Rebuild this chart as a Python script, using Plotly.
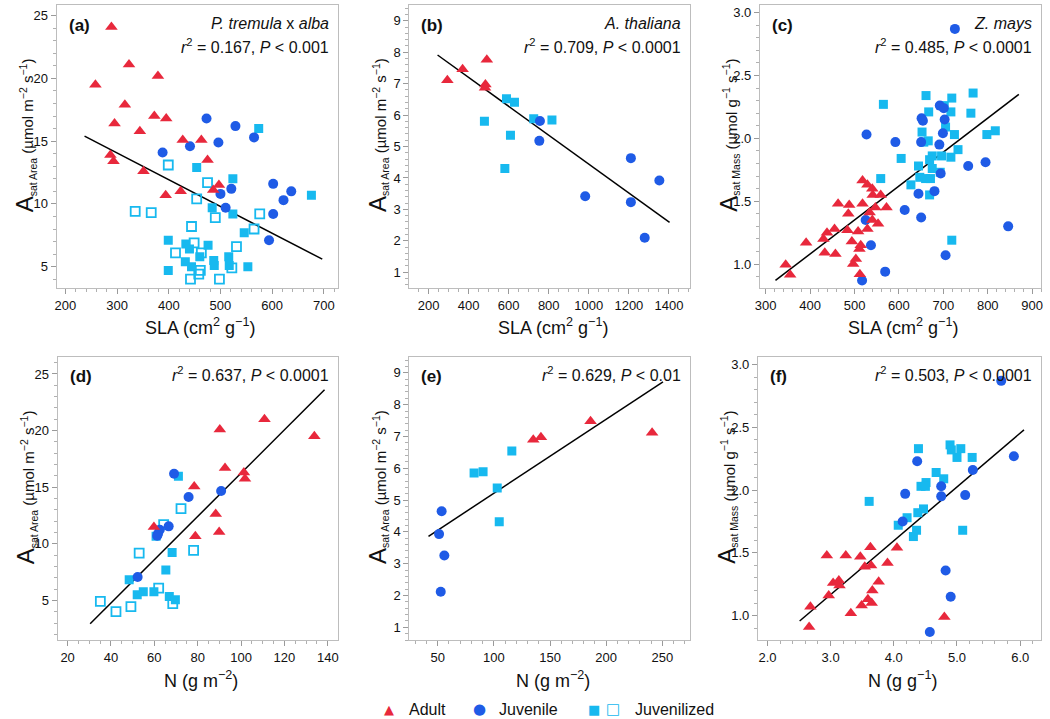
import plotly.graph_objects as go

# ---------------- data ----------------
# (a) P. tremula x alba : SLA vs Asat area
a_adult_x = [289, 323, 258, 379, 315, 372, 395, 295, 344, 427, 463, 287, 293, 351, 475, 497, 486, 423, 394]
a_adult_y = [24.1, 21.1, 19.5, 20.2, 17.9, 17.0, 16.8, 16.4, 15.8, 15.1, 15.1, 13.9, 13.4, 12.6, 13.5, 11.5, 11.1, 11.0, 10.7]
a_juv_x = [473, 529, 565, 496, 441, 388, 602, 637, 521, 500, 622, 510, 602, 594]
a_juv_y = [16.8, 16.2, 15.3, 14.9, 14.6, 14.1, 11.6, 11.0, 11.2, 10.8, 10.3, 9.7, 9.2, 7.1]
a_jzf_x = [574, 454, 524, 676, 484, 524, 546, 399, 476, 433, 440, 460, 516, 432, 487, 488, 444, 517, 553, 399]
a_jzf_y = [16.0, 12.9, 12.0, 10.7, 9.7, 9.2, 7.7, 7.1, 6.7, 6.8, 6.4, 5.8, 5.8, 5.4, 5.5, 5.1, 5.0, 5.1, 5.0, 4.7]
a_jzo_x = [399, 475, 335, 366, 454, 576, 490, 444, 565, 449, 531, 413, 463, 461, 458, 522, 442, 498]
a_jzo_y = [13.1, 11.7, 9.4, 9.3, 10.4, 9.2, 8.9, 8.2, 8.0, 6.9, 6.6, 6.1, 6.1, 4.7, 4.4, 4.9, 4.0, 4.0]
a_fit_x = [237, 697]
a_fit_y = [15.4, 5.6]

# (b) A. thaliana
b_adult_x = [294, 370, 491, 484, 482]
b_adult_y = [7.11, 7.46, 7.76, 6.97, 6.87]
b_juv_x = [756, 753, 982, 1210, 1210, 1279, 1352]
b_juv_y = [5.81, 5.18, 3.42, 4.63, 3.23, 2.10, 3.92]
b_jzf_x = [589, 629, 725, 816, 479, 609, 581]
b_jzf_y = [6.52, 6.41, 5.88, 5.84, 5.80, 5.36, 4.30]
b_fit_x = [245, 1403]
b_fit_y = [7.91, 2.59]

# (c) Z. mays : SLA vs Asat mass
c_adult_x = [345, 355, 391, 433, 438, 430, 457, 455, 463, 488, 486, 484, 494, 497, 503, 508, 511, 514, 512,
             518, 518, 529, 529, 534, 540, 541, 540, 547, 553, 559, 572]
c_adult_y = [0.995, 0.915, 1.17, 1.09, 1.25, 1.20, 1.08, 1.28, 1.48, 1.47, 1.40, 1.27, 1.18, 1.00, 1.04, 1.26, 1.12, 1.15, 0.92,
             1.665, 1.48, 1.63, 1.28, 1.41, 1.60, 1.55, 1.35, 1.45, 1.32, 1.55, 1.45]
c_juv_x = [726, 527, 592, 650, 651, 654, 692, 701, 703, 699, 691, 694, 680, 644, 613, 650, 525, 537, 569, 517, 705, 756, 795, 846]
c_juv_y = [2.87, 2.03, 1.97, 1.97, 2.16, 2.14, 2.26, 2.24, 2.15, 2.04, 1.95, 1.72, 1.58, 1.56, 1.43, 1.37, 1.35, 1.15, 0.94, 0.87, 1.07, 1.78, 1.81, 1.30]
c_jzf_x = [565, 661, 667, 702, 719, 767, 762, 717, 705, 725, 798, 817, 733, 666, 656, 652, 605, 644, 675, 696,
           717, 675, 669, 693, 647, 660, 671, 559, 627, 669, 719]
c_jzf_y = [2.27, 2.34, 2.21, 2.26, 2.32, 2.36, 2.20, 2.21, 2.09, 2.03, 2.03, 2.06, 1.91, 1.98, 1.97, 2.05, 1.84, 1.78, 1.86, 1.86,
           1.85, 1.76, 1.83, 1.73, 1.69, 1.68, 1.68, 1.68, 1.63, 1.55, 1.19]
c_fit_x = [322, 870]
c_fit_y = [0.87, 2.35]

# (d) P. tremula x alba : N area vs Asat area
d_adult_x = [110.8, 90.2, 133.8, 92.6, 101.3, 101.8, 78.4, 88.3, 89.9, 59.8, 78.9]
d_adult_y = [21.0, 20.1, 19.5, 16.7, 16.3, 15.75, 15.07, 12.63, 11.04, 11.48, 10.66]
d_juv_x = [69.1, 75.8, 90.8, 66.6, 62.5, 61.7, 61.3, 52.3]
d_juv_y = [16.19, 14.13, 14.66, 11.54, 11.24, 10.89, 10.71, 7.06]
d_jzf_x = [71.1, 60.8, 68.2, 65.3, 48.4, 54.9, 59.8, 52.1, 66.9, 69.7]
d_jzf_y = [15.96, 10.66, 9.24, 7.68, 6.83, 5.77, 5.77, 5.50, 5.35, 5.06]
d_jzo_x = [72.3, 64.3, 53.0, 78.1, 62.0, 35.1, 49.2, 42.3, 68.5]
d_jzo_y = [13.1, 11.69, 9.18, 9.42, 6.09, 4.91, 4.44, 4.00, 4.71]
d_fit_x = [30.4, 138.5]
d_fit_y = [2.94, 23.6]

# (e) A. thaliana : N area vs Asat area
e_adult_x = [186.1, 240.9, 141.9, 135.1]
e_adult_y = [7.48, 7.12, 6.98, 6.90]
e_juv_x = [53.5, 51.2, 55.9, 52.7]
e_juv_y = [4.65, 3.93, 3.26, 2.12]
e_jzf_x = [116.0, 90.4, 82.4, 103.0, 104.8]
e_jzf_y = [6.54, 5.89, 5.85, 5.38, 4.32]
e_fit_x = [41.8, 250.6]
e_fit_y = [3.86, 8.72]

# (f) Z. mays : N mass vs Asat mass
f_adult_x = [2.94, 3.24, 3.47, 3.63, 4.05, 3.90, 3.54, 3.64, 3.04, 3.13, 3.14, 2.97, 3.76, 3.66, 3.59, 3.65, 3.49, 3.32, 2.68, 2.66, 4.80]
f_adult_y = [1.48, 1.48, 1.47, 1.545, 1.54, 1.42, 1.39, 1.40, 1.26, 1.28, 1.24, 1.16, 1.27, 1.20, 1.13, 1.10, 1.08, 1.02, 1.07, 0.91, 0.99]
f_juv_x = [5.70, 5.90, 5.25, 4.37, 4.18, 5.13, 4.75, 4.75, 4.14, 4.82, 4.90, 4.57]
f_juv_y = [2.87, 2.27, 2.16, 2.23, 1.97, 1.96, 2.03, 1.95, 1.75, 1.36, 1.15, 0.87]
f_jzf_x = [4.39, 4.89, 4.91, 5.06, 5.00, 5.24, 4.67, 4.79, 4.51, 4.43, 4.50, 4.47, 4.38, 4.21, 4.07, 4.36, 4.31, 5.09, 3.61]
f_jzf_y = [2.33, 2.36, 2.32, 2.33, 2.26, 2.26, 2.14, 2.09, 2.06, 2.03, 2.03, 1.85, 1.82, 1.78, 1.72, 1.68, 1.63, 1.68, 1.91]
f_fit_x = [2.51, 6.06]
f_fit_y = [0.957, 2.48]

panel_labels = ["(a)", "(b)", "(c)", "(d)", "(e)", "(f)"]
species = ["<i>P. tremula</i> x <i>alba</i>", "<i>A. thaliana</i>", "<i>Z. mays</i>"]
stats = ["<i>r</i><sup>2</sup> = 0.167, <i>P</i> < 0.001",
         "<i>r</i><sup>2</sup> = 0.709, <i>P</i> < 0.0001",
         "<i>r</i><sup>2</sup> = 0.485, <i>P</i> < 0.0001",
         "<i>r</i><sup>2</sup> = 0.637, <i>P</i> < 0.0001",
         "<i>r</i><sup>2</sup> = 0.629, <i>P</i> < 0.01",
         "<i>r</i><sup>2</sup> = 0.503, <i>P</i> < 0.0001"]
legend_names = ["Adult", "Juvenile", "Juvenilized"]

# ---------------- style ----------------
W, H = 1050, 719
RED = "#E8283C"
BLUE = "#1F5BE6"
CYAN = "#17B9EF"
FONT = "Liberation Sans, Arial, Helvetica, sans-serif"

# pixel frames: left, right, top, bottom
frames = [(52, 335, 5, 288), (407, 690, 5, 288), (760, 1043, 5, 288),
          (53, 335, 357, 640), (407, 690, 357, 640), (758, 1043, 357, 640)]
xranges = [[183, 727], [104, 1507], [287, 920], [15.4, 144.6], [24.7, 275], [1.85, 6.33]]
yranges = [[3.3, 25.85], [0.5, 9.5], [0.81, 3.06], [1.5, 26.5], [0.6, 9.5], [0.806, 3.06]]
xdt = [100, 200, 100, 20, 50, 1]
ydt = [5, 1, 0.5, 5, 1, 0.5]
xfmt = ["", "", "", "", "", ".1f"]
yfmt = ["", "", ".1f", "", "", ".1f"]

fig = go.Figure()

panels = [
    (a_adult_x, a_adult_y, a_juv_x, a_juv_y, a_jzf_x, a_jzf_y, a_jzo_x, a_jzo_y, a_fit_x, a_fit_y),
    (b_adult_x, b_adult_y, b_juv_x, b_juv_y, b_jzf_x, b_jzf_y, [], [], b_fit_x, b_fit_y),
    (c_adult_x, c_adult_y, c_juv_x, c_juv_y, c_jzf_x, c_jzf_y, [], [], c_fit_x, c_fit_y),
    (d_adult_x, d_adult_y, d_juv_x, d_juv_y, d_jzf_x, d_jzf_y, d_jzo_x, d_jzo_y, d_fit_x, d_fit_y),
    (e_adult_x, e_adult_y, e_juv_x, e_juv_y, e_jzf_x, e_jzf_y, [], [], e_fit_x, e_fit_y),
    (f_adult_x, f_adult_y, f_juv_x, f_juv_y, f_jzf_x, f_jzf_y, [], [], f_fit_x, f_fit_y),
]

annotations = []
for i, (ax_, ay_, jx, jy, fx, fy, ox, oy, lx, ly) in enumerate(panels):
    n = "" if i == 0 else str(i + 1)
    xa, ya = "x" + n, "y" + n
    fig.add_trace(go.Scatter(x=lx, y=ly, mode="lines", line=dict(color="black", width=1.5),
                             xaxis=xa, yaxis=ya, showlegend=False, hoverinfo="skip"))
    if ox:
        fig.add_trace(go.Scatter(x=ox, y=oy, mode="markers", xaxis=xa, yaxis=ya, showlegend=False,
                                 marker=dict(symbol="square-open", size=9, color=CYAN, line=dict(width=1.8, color=CYAN))))
    fig.add_trace(go.Scatter(x=fx, y=fy, mode="markers", xaxis=xa, yaxis=ya, showlegend=False,
                             marker=dict(symbol="square", size=9, color=CYAN)))
    fig.add_trace(go.Scatter(x=jx, y=jy, mode="markers", xaxis=xa, yaxis=ya, showlegend=False,
                             marker=dict(symbol="circle", size=10, color=BLUE)))
    fig.add_trace(go.Scatter(x=ax_, y=ay_, mode="markers", xaxis=xa, yaxis=ya, showlegend=False,
                             marker=dict(symbol="triangle-up", size=11, color=RED)))

    l, r, t, b = frames[i]
    common = dict(showline=True, linecolor="#bdbdbd", linewidth=1, mirror=True, showgrid=False,
                  zeroline=False, ticks="outside", ticklen=5, tickcolor="#9a9a9a",
                  tickfont=dict(size=13, color="#111", family=FONT),
                  minor=dict(ticks="outside", ticklen=3, tickcolor="#b0b0b0"))
    fig.update_layout(**{
        "xaxis" + n: dict(common, domain=[l / W, r / W], range=xranges[i], dtick=xdt[i],
                          tickformat=xfmt[i], anchor=ya),
        "yaxis" + n: dict(common, domain=[1 - b / H, 1 - t / H], range=yranges[i], dtick=ydt[i],
                          tickformat=yfmt[i], anchor=xa),
    })

    row_top = t
    annotations.append(dict(text="<b>" + panel_labels[i] + "</b>", x=(l + 10) / W, y=1 - (row_top + 20) / H,
                            xref="paper", yref="paper", xanchor="left", yanchor="middle", showarrow=False,
                            font=dict(size=17, color="#111", family=FONT)))
    if i < 3:
        annotations.append(dict(text=species[i], x=(r - 7) / W, y=1 - (row_top + 18) / H,
                                xref="paper", yref="paper", xanchor="right", yanchor="middle", showarrow=False,
                                font=dict(size=16, color="#111", family=FONT)))
        sy = row_top + 41
    else:
        sy = row_top + 17
    annotations.append(dict(text=stats[i], x=(r - 7) / W, y=1 - sy / H,
                            xref="paper", yref="paper", xanchor="right", yanchor="middle", showarrow=False,
                            font=dict(size=16, color="#111", family=FONT)))

# y-axis titles
ytitle_area = '<span style="font-size:24px">A</span><sub>sat Area</sub> (µmol m<sup>−2</sup> s<sup>−1</sup>)'
ytitle_mass = '<span style="font-size:24px">A</span><sub>sat Mass</sub> (µmol g<sup>−1</sup> s<sup>−1</sup>)'
ytitles = [ytitle_area, ytitle_area, ytitle_mass, ytitle_area, ytitle_area, ytitle_mass]
for i, (l, r, t, b) in enumerate(frames):
    annotations.append(dict(text=ytitles[i], x=(l - 32) / W, y=1 - ((t + b) / 2 - 11) / H,
                            xref="paper", yref="paper", xanchor="center", yanchor="middle",
                            textangle=-90, showarrow=False, font=dict(size=15, color="#111", family=FONT)))

xtitles = ["SLA (cm<sup>2</sup> g<sup>−1</sup>)"] * 3 + ["N (g m<sup>−2</sup>)", "N (g m<sup>−2</sup>)", "N (g g<sup>−1</sup>)"]
for i, (l, r, t, b) in enumerate(frames):
    annotations.append(dict(text=xtitles[i], x=((l + r) / 2 + 3) / W, y=1 - (b + 39) / H,
                            xref="paper", yref="paper", xanchor="center", yanchor="middle",
                            showarrow=False, font=dict(size=18, color="#111", family=FONT)))

# legend (text-based)
ly_ = 1 - 709 / H
leg = [("▲", RED, 387, 13), ("●", BLUE, 478, 15), ("■", CYAN, 593, 13), ("□", CYAN, 612, 15)]
for sym, col, px, fs in leg:
    annotations.append(dict(text=sym, x=px / W, y=ly_, xref="paper", yref="paper", xanchor="center",
                            yanchor="middle", showarrow=False, font=dict(size=fs, color=col, family="DejaVu Sans")))
for name, px in zip(legend_names, [405, 495, 632]):
    annotations.append(dict(text=name, x=px / W, y=ly_, xref="paper", yref="paper", xanchor="left",
                            yanchor="middle", showarrow=False, font=dict(size=16, color="#111", family=FONT)))

fig.update_layout(width=W, height=H, margin=dict(l=0, r=0, t=0, b=0), plot_bgcolor="white",
                  paper_bgcolor="white", showlegend=False, annotations=annotations,
                  font=dict(family=FONT))

fig.write_html("out.html", config={"displayModeBar": False},
               post_script="document.body.style.margin='0';document.body.style.overflow='hidden';")
